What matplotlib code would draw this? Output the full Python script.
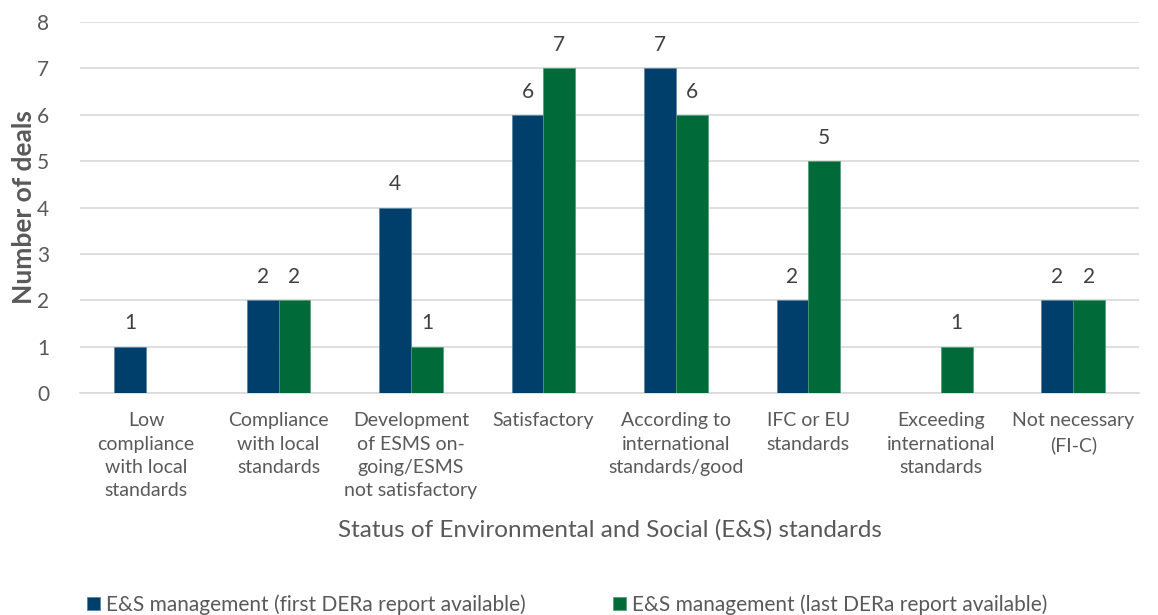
import matplotlib.pyplot as plt
import numpy as np

categories = ['Low\ncompliance\nwith local\nstandards', 'Compliance\nwith local\nstandards',
              'Development\nof ESMS on-\ngoing/ESMS\nnot satisfactory', 'Satisfactory',
              'According to\ninternational\nstandards/good', 'IFC or EU\nstandards',
              'Exceeding\ninternational\nstandards', 'Not necessary\n(FI-C)']
first_report = [1, 2, 4, 6, 7, 2, 0, 2]
last_report = [0, 2, 1, 7, 6, 5, 1, 2]
series_names = ['E&S management (first DERa report available)',
                'E&S management (last DERa report available)']

plt.rcParams['font.family'] = ['Lato', 'DejaVu Sans']
grey = '#595959'
blue = '#003F6B'
green = '#006B38'

fig = plt.figure(figsize=(11.58, 6.15), dpi=100)
ax = fig.add_axes([0.069, 0.361, 0.915, 0.603])

x = np.arange(len(categories))
w = 0.24
b1 = ax.bar(x - w / 2, first_report, w, color=blue, edgecolor='#5a7f9c', linewidth=0.5,
            label=series_names[0], zorder=3)
b2 = ax.bar(x + w / 2, last_report, w, color=green, edgecolor='#4f9a72', linewidth=0.5,
            label=series_names[1], zorder=3)

# data labels, skip zeros
for bars in (b1, b2):
    for r in bars:
        h = r.get_height()
        if h > 0:
            ax.text(r.get_x() + r.get_width() / 2, h + 0.5, '%d' % h,
                    ha='center', va='center', fontsize=15, color='#404040')

ax.set_xlim(-0.5, len(categories) - 0.5)
ax.set_ylim(0, 8)
ax.set_yticks(range(0, 9))
ax.yaxis.grid(True, color='#D9D9D9', linewidth=1.2, zorder=0)
ax.set_axisbelow(True)
for s in ['top', 'right', 'left']:
    ax.spines[s].set_visible(False)
ax.spines['bottom'].set_color('#D9D9D9')
ax.spines['bottom'].set_linewidth(1.2)
ax.tick_params(axis='both', length=0, colors=grey)
ax.tick_params(axis='x', pad=14, labelsize=14)
ax.tick_params(axis='y', pad=22, labelsize=15)
ax.set_xticks(x)
ax.set_xticklabels(categories, linespacing=1.45, va='top')

ax.set_ylabel('Number of deals', fontsize=19, fontweight='bold', color=grey, labelpad=1)
ax.set_xlabel('Status of Environmental and Social (E&S) standards', fontsize=17.5,
              color=grey, labelpad=14)

fig.legend(handles=[b1, b2], loc='lower center', bbox_to_anchor=(0.49, -0.03), ncol=2,
           frameon=False, fontsize=15, labelcolor=grey, handlelength=0.6,
           handleheight=0.6, handletextpad=0.3, columnspacing=4.2)

fig.savefig('out.png', dpi=100)
